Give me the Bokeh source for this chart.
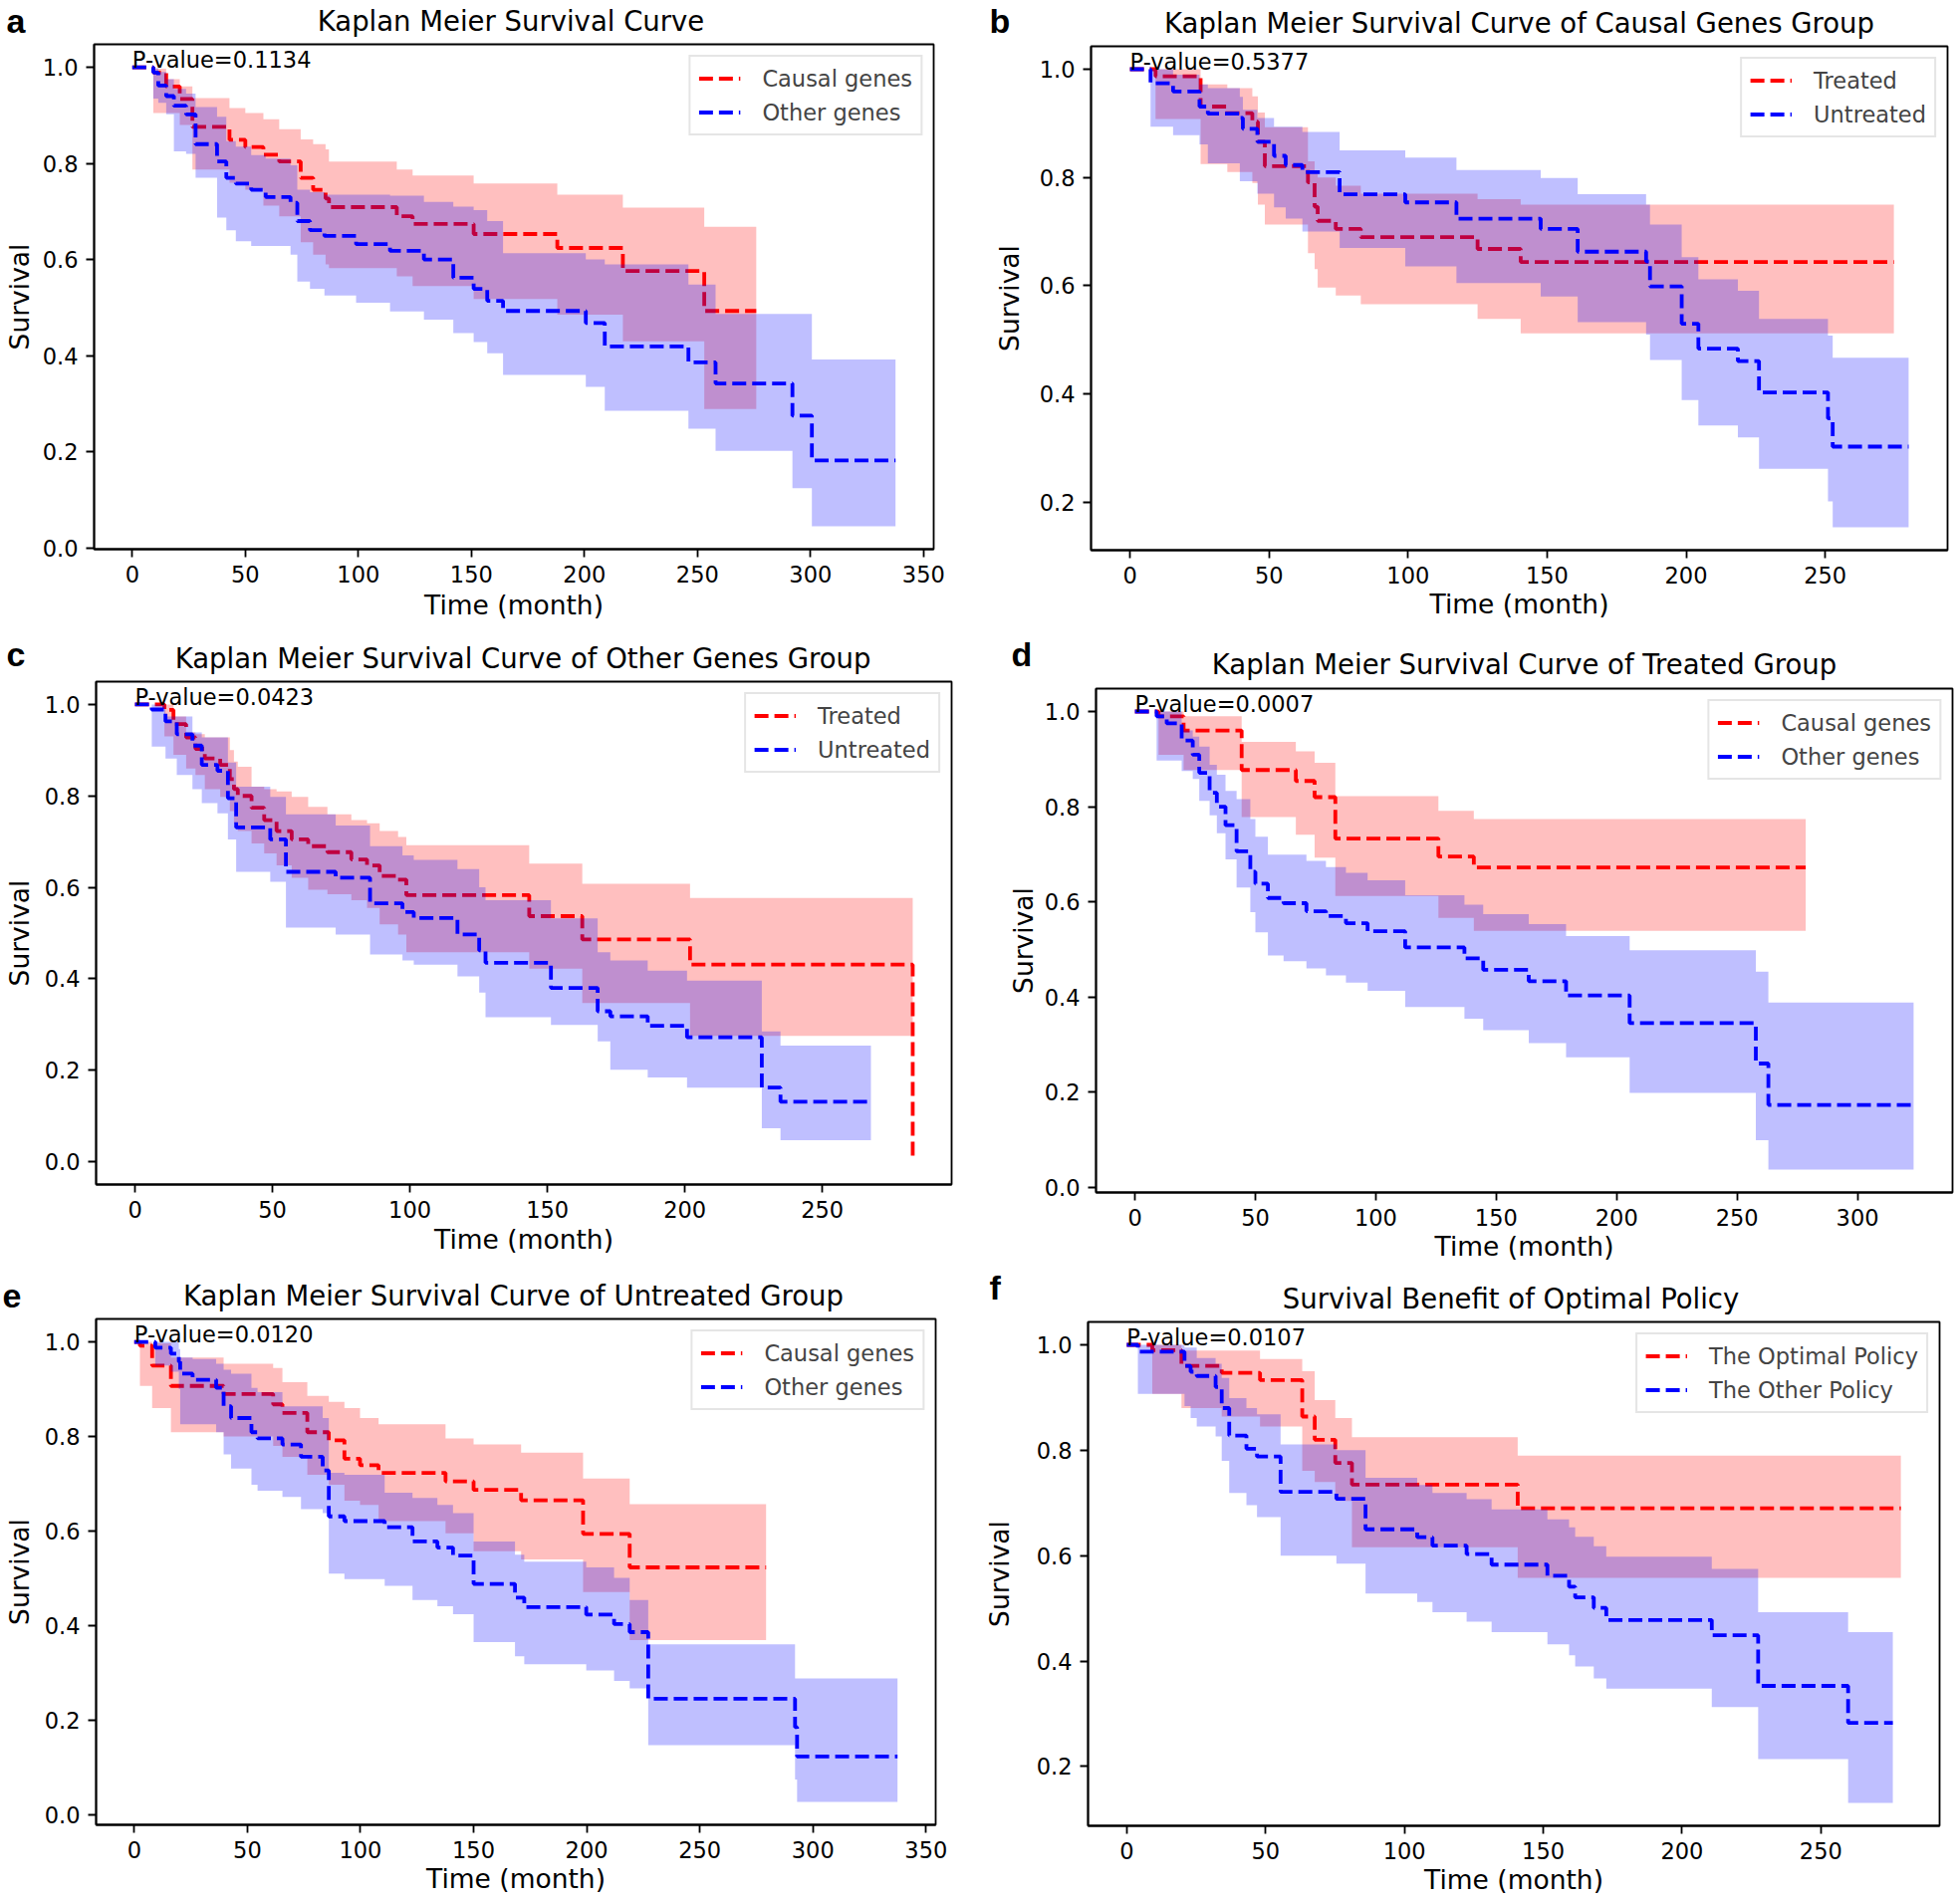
import math
from bokeh.plotting import figure
from bokeh.models import Range1d, FixedTicker, Label, NumeralTickFormatter
from bokeh.layouts import row, column
from bokeh.embed import file_html
from bokeh.resources import INLINE

# ---------------- data ----------------
X_TICKS = [0, 50, 100, 150, 200, 250, 300, 350]
Y_TICKS = [0.0, 0.2, 0.4, 0.6, 0.8, 1.0]

# Panel a: Causal genes (red) vs Other genes (blue)
A_RED_T = [0, 9.3, 15, 21, 26.6, 43, 50, 58, 65, 74.5, 80, 85.5, 87, 117, 124, 151, 188, 217, 253]
A_RED_S = [1.0, .989, .96, .934, .876, .849, .834, .818, .804, .77, .745, .727, .709, .69, .674, .653, .624, .576, .493]
A_RED_LO = [1.0, .905, .905, .88, .787, .76, .745, .712, .69, .636, .61, .59, .582, .565, .545, .518, .485, .43, .289]
A_RED_HI = [1.0, .997, .975, .96, .936, .915, .905, .892, .871, .85, .84, .829, .804, .787, .775, .758, .735, .708, .668]
A_RED_END = 276
A_BLUE_T = [0, 9.3, 11.5, 15, 18.4, 23.8, 28, 37.5, 41.6, 45.8, 52.6, 59, 70, 73, 78.6, 85, 99, 114, 129, 142, 151, 157, 164, 200.6, 209, 246, 258, 292, 300.6]
A_BLUE_S = [1.0, .989, .962, .94, .92, .902, .84, .804, .77, .758, .745, .73, .718, .68, .661, .649, .632, .618, .60, .562, .539, .514, .493, .468, .419, .386, .342, .275, .182]
A_BLUE_LO = [1.0, .935, .926, .902, .825, .82, .77, .687, .661, .638, .628, .628, .61, .554, .539, .525, .51, .492, .475, .447, .428, .405, .36, .335, .285, .248, .202, .124, .045]
A_BLUE_HI = [1.0, .998, .99, .975, .955, .945, .917, .897, .846, .835, .817, .81, .796, .745, .74, .735, .735, .733, .72, .71, .703, .68, .613, .60, .59, .548, .487, .487, .392]
A_BLUE_END = 337.6

# Panel b: Treated (red) vs Untreated (blue), causal genes group
B_RED_T = [0, 9.2, 25.4, 35, 44, 46, 48.5, 64, 66.4, 67.5, 74, 83, 125, 140.5]
B_RED_S = [1.0, .987, .931, .919, .903, .866, .821, .791, .746, .72, .705, .69, .668, .644]
B_RED_LO = [1.0, .908, .825, .81, .79, .75, .713, .66, .631, .597, .582, .566, .539, .512]
B_RED_HI = [1.0, 1.0, .972, .965, .95, .92, .893, .83, .81, .80, .785, .77, .76, .75]
B_RED_END = 274.7
B_BLUE_T = [0, 7.4, 15.5, 25, 28, 39.5, 40.6, 45.8, 51.8, 56, 62, 75.4, 99, 117.4, 147.7, 161, 185.6, 187, 198.4, 204.4, 218.6, 226.2, 251, 252.7]
B_BLUE_S = [1.0, .974, .959, .931, .918, .91, .89, .866, .84, .823, .81, .769, .754, .724, .705, .663, .645, .599, .53, .484, .461, .403, .355, .303]
B_BLUE_LO = [1.0, .894, .878, .861, .826, .793, .793, .77, .745, .724, .70, .67, .636, .605, .58, .533, .51, .463, .389, .342, .32, .262, .202, .154]
B_BLUE_HI = [1.0, 1.0, .99, .972, .965, .949, .925, .91, .894, .894, .884, .85, .837, .814, .799, .769, .75, .713, .653, .612, .591, .539, .508, .467]
B_BLUE_END = 280

# Panel c: Treated (red) vs Untreated (blue), other genes group
C_RED_T = [0, 10.7, 14, 18.6, 22, 25.4, 31, 34.5, 36, 37.4, 42.4, 47, 51.5, 57, 63, 70, 78.7, 84.4, 89, 95.7, 98.7, 143.4, 162.7, 201.9, 282.9]
C_RED_S = [1.0, .988, .957, .928, .903, .882, .868, .837, .815, .80, .774, .747, .723, .705, .69, .677, .661, .648, .625, .617, .583, .537, .486, .431, 0.0]
C_RED_LO = [1.0, .93, .89, .86, .846, .815, .798, .767, .74, .723, .696, .674, .648, .621, .595, .585, .572, .555, .519, .497, .458, .422, .347, .275, .275]
C_RED_HI = [1.0, 1.0, .974, .939, .935, .928, .928, .90, .875, .864, .82, .815, .81, .798, .776, .76, .747, .74, .723, .71, .692, .652, .608, .577, .577]
C_RED_END = 282.9
C_BLUE_T = [0, 6.1, 11.1, 15.2, 20.9, 24.3, 30, 33.8, 36.8, 49.2, 54.9, 73, 85.5, 97.3, 101.4, 117.3, 125.2, 127.5, 151.3, 168.3, 172.9, 186.5, 200.8, 228, 234.8]
C_BLUE_S = [1.0, .989, .963, .935, .91, .868, .855, .795, .731, .705, .634, .621, .565, .546, .533, .497, .462, .435, .38, .329, .318, .297, .272, .162, .131]
C_BLUE_LO = [1.0, .908, .882, .846, .815, .784, .762, .705, .634, .612, .512, .497, .453, .44, .431, .405, .37, .316, .299, .263, .201, .184, .162, .073, .047]
C_BLUE_HI = [1.0, 1.0, .974, .974, .939, .928, .928, .873, .82, .798, .76, .735, .69, .67, .66, .64, .60, .572, .532, .458, .44, .418, .396, .285, .254]
C_BLUE_END = 267.7

# Panel d: Causal genes (red) vs Other genes (blue), treated group
D_RED_T = [0, 9.8, 20.2, 44.3, 66.8, 74.6, 83.2, 126, 140.7]
D_RED_S = [1.0, .99, .96, .877, .854, .82, .733, .695, .672]
D_RED_LO = [1.0, .909, .877, .778, .741, .693, .612, .566, .539]
D_RED_HI = [1.0, 1.0, .99, .936, .916, .892, .822, .791, .774]
D_RED_END = 278.5
D_BLUE_T = [0, 9, 13.2, 19.4, 24, 26.7, 31, 34, 37.6, 42.2, 47.9, 50, 55.2, 61.7, 71.2, 79.3, 87.6, 96.6, 112.2, 136.8, 144.6, 163.5, 179, 205.4, 257.8, 263]
D_BLUE_S = [1.0, .99, .975, .939, .909, .871, .829, .80, .761, .706, .663, .638, .608, .597, .58, .57, .555, .538, .504, .481, .457, .433, .403, .345, .26, .173]
D_BLUE_LO = [1.0, .897, .897, .875, .858, .812, .782, .744, .689, .63, .578, .536, .487, .475, .46, .445, .43, .413, .379, .354, .33, .303, .273, .198, .099, .037]
D_BLUE_HI = [1.0, 1.0, 1.0, .96, .947, .926, .888, .867, .833, .816, .774, .737, .699, .699, .686, .673, .661, .645, .614, .594, .574, .553, .528, .498, .453, .388]
D_BLUE_END = 323.3

# Panel e: Causal genes (red) vs Other genes (blue), untreated group
E_RED_T = [0, 2.5, 7.9, 16.2, 39.5, 61.4, 65.5, 76.5, 86, 92.9, 99.8, 108, 137.6, 150, 171, 198.4, 219]
E_RED_S = [1.0, .992, .95, .907, .89, .868, .85, .809, .792, .753, .739, .723, .705, .687, .665, .594, .523]
E_RED_LO = [1.0, .907, .86, .809, .80, .78, .757, .719, .698, .664, .655, .621, .595, .557, .54, .471, .369]
E_RED_HI = [1.0, 1.0, .997, .967, .954, .945, .915, .886, .873, .86, .839, .826, .796, .783, .766, .711, .657]
E_RED_END = 279.3
E_BLUE_T = [0, 9.3, 16.2, 19.7, 20.3, 25.8, 36.2, 39.5, 42.8, 51.8, 54.5, 65.5, 73.7, 83.3, 86, 92.9, 110.7, 123, 134, 140.9, 150, 168.3, 172.4, 199.8, 212.1, 219, 227.2, 292.1, 293]
E_BLUE_S = [1.0, .988, .975, .958, .933, .92, .903, .864, .839, .809, .796, .783, .757, .728, .631, .621, .608, .578, .565, .548, .488, .459, .439, .423, .403, .386, .245, .185, .123]
E_BLUE_LO = [1.0, .95, .937, .90, .826, .826, .809, .762, .732, .698, .685, .672, .646, .638, .51, .498, .484, .454, .441, .424, .365, .335, .318, .305, .283, .267, .147, .074, .027]
E_BLUE_HI = [1.0, 1.0, 1.0, .985, .967, .964, .954, .941, .933, .903, .894, .864, .864, .839, .723, .719, .681, .67, .655, .638, .578, .55, .535, .523, .501, .454, .36, .288, .288]
E_BLUE_END = 337.4

# Panel f: The Optimal Policy (red) vs The Other Policy (blue)
F_RED_T = [0, 9.2, 19.7, 34.2, 48, 63.2, 67.7, 75.1, 81.1, 140.8]
F_RED_S = [1.0, .99, .96, .947, .933, .864, .82, .776, .735, .69]
F_RED_LO = [1.0, .907, .88, .864, .845, .761, .74, .704, .616, .558]
F_RED_HI = [1.0, 1.0, .989, .989, .973, .95, .895, .861, .825, .79]
F_RED_END = 278.8
F_BLUE_T = [0, 4, 20.8, 23, 25.2, 32, 34.2, 36.9, 43.1, 46.9, 55.4, 75.5, 86, 104.6, 110.1, 122.4, 131.4, 151.5, 159.3, 161.5, 168.2, 172.7, 210.7, 227.4, 259.8]
F_BLUE_S = [1.0, .987, .96, .949, .941, .92, .88, .828, .803, .788, .721, .708, .65, .635, .619, .603, .583, .562, .541, .521, .501, .478, .449, .353, .283]
F_BLUE_LO = [1.0, .907, .884, .861, .845, .826, .78, .719, .696, .673, .60, .585, .528, .512, .493, .475, .455, .432, .411, .39, .367, .348, .313, .214, .131]
F_BLUE_HI = [1.0, 1.0, .995, .995, .975, .964, .937, .899, .88, .868, .811, .80, .748, .734, .719, .707, .688, .669, .654, .636, .618, .598, .575, .493, .455]
F_BLUE_END = 275.9

TITLES = ["Kaplan Meier Survival Curve",
          "Kaplan Meier Survival Curve of Causal Genes Group",
          "Kaplan Meier Survival Curve of Other Genes Group",
          "Kaplan Meier Survival Curve of Treated Group",
          "Kaplan Meier Survival Curve of Untreated Group",
          "Survival Benefit of Optimal Policy"]
LETTERS = ["a", "b", "c", "d", "e", "f"]
P_VALUES = ["P-value=0.1134", "P-value=0.5377", "P-value=0.0423",
            "P-value=0.0007", "P-value=0.0120", "P-value=0.0107"]
LEGENDS = [("Causal genes", "Other genes"), ("Treated", "Untreated"),
           ("Treated", "Untreated"), ("Causal genes", "Other genes"),
           ("Causal genes", "Other genes"), ("The Optimal Policy", "The Other Policy")]
X_LABEL = "Time (month)"
Y_LABEL = "Survival"

SERIES = [
    ((A_RED_T, A_RED_S, A_RED_LO, A_RED_HI, A_RED_END), (A_BLUE_T, A_BLUE_S, A_BLUE_LO, A_BLUE_HI, A_BLUE_END)),
    ((B_RED_T, B_RED_S, B_RED_LO, B_RED_HI, B_RED_END), (B_BLUE_T, B_BLUE_S, B_BLUE_LO, B_BLUE_HI, B_BLUE_END)),
    ((C_RED_T, C_RED_S, C_RED_LO, C_RED_HI, C_RED_END), (C_BLUE_T, C_BLUE_S, C_BLUE_LO, C_BLUE_HI, C_BLUE_END)),
    ((D_RED_T, D_RED_S, D_RED_LO, D_RED_HI, D_RED_END), (D_BLUE_T, D_BLUE_S, D_BLUE_LO, D_BLUE_HI, D_BLUE_END)),
    ((E_RED_T, E_RED_S, E_RED_LO, E_RED_HI, E_RED_END), (E_BLUE_T, E_BLUE_S, E_BLUE_LO, E_BLUE_HI, E_BLUE_END)),
    ((F_RED_T, F_RED_S, F_RED_LO, F_RED_HI, F_RED_END), (F_BLUE_T, F_BLUE_S, F_BLUE_LO, F_BLUE_HI, F_BLUE_END)),
]

# ---------------- layout (page pixel coordinates) ----------------
CELLS = [(0, 0, 984, 636), (984, 0, 984, 636),
         (0, 636, 984, 636), (984, 636, 984, 636),
         (0, 1272, 984, 636), (984, 1272, 984, 636)]
# plot frame (left, top, right, bottom)
FRAMES = [(88, 44, 937, 551), (1095, 46, 1955, 552), (94, 684, 955, 1189),
          (1100, 691, 1960, 1197), (91, 1324, 939, 1832), (1086, 1327, 1947, 1833)]
YLAB_STANDOFF = [5, 12, 7, 3, 7, 19]
XLAB_STANDOFF = [4, 2, 3, 2, 2, 2]
TITLE_Y = [30.5, 32.5, 670.5, 676.5, 1310.5, 1313.5]      # baseline of the title
LETTER_POS = [(6, 32), (993, 32), (6, 668), (1015, 668), (2, 1313), (993, 1304)]

RED = "#ff0000"
BLUE = "#0000ff"
FONT = "DejaVu Sans"
MID = 0.346   # distance from text middle to baseline, in em
TITLE_SIZE = 27.5
LETTER_SIZE = 34
SMALL_SIZE = 22.5


def make_header(i, hh):
    cx, cy, cw, ch = CELLS[i]
    fl, ft, fr, fb = FRAMES[i]
    h = figure(width=cw, height=hh, x_range=Range1d(0, cw), y_range=Range1d(0, hh),
               x_axis_location=None, y_axis_location=None, min_border=0,
               output_backend="svg", toolbar_location=None)
    h.frame_align = False
    h.title.visible = False
    h.outline_line_color = None
    h.background_fill_color = "white"
    h.border_fill_color = "white"
    h.grid.visible = False
    h.add_layout(Label(x=(fl + fr) / 2 - cx, y=cy + hh - TITLE_Y[i] + MID * TITLE_SIZE,
                       x_units="screen", y_units="screen",
                       text=TITLES[i], text_font=FONT, text_font_size=f"{TITLE_SIZE}px",
                       text_align="center", text_baseline="middle", text_color="black"))
    lx, ly = LETTER_POS[i]
    h.add_layout(Label(x=lx - cx, y=cy + hh - ly + MID * LETTER_SIZE,
                       x_units="screen", y_units="screen",
                       text=LETTERS[i], text_font="Liberation Sans", text_font_style="bold",
                       text_font_size=f"{LETTER_SIZE}px", text_align="left", text_baseline="middle",
                       text_color="black"))
    return h


def make_panel(i):
    cx, cy, cw, ch = CELLS[i]
    fl, ft, fr, fb = FRAMES[i]
    hh = ft - cy - 2
    (red, blue) = SERIES[i]
    tmax = max(red[4], blue[4])
    ymin = min(min(red[1]), min(red[2]), min(blue[1]), min(blue[2]))
    ymax = 1.0
    span = ymax - ymin
    p = figure(width=cw, height=ch - hh,
               x_range=Range1d(-0.05 * tmax, 1.05 * tmax),
               y_range=Range1d(ymin - 0.05 * span, ymax + 0.05 * span),
               min_border_left=fl - cx, min_border_right=cx + cw - fr,
               min_border_top=2, min_border_bottom=cy + ch - fb,
               output_backend="svg", toolbar_location=None)
    p.frame_align = False
    p.title.visible = False
    p.background_fill_color = "white"
    p.border_fill_color = "white"
    p.outline_line_color = "black"
    p.outline_line_width = 1.8
    p.xgrid.visible = False
    p.ygrid.visible = False
    for ax in (p.xaxis[0], p.yaxis[0]):
        ax.axis_line_color = "black"
        ax.axis_line_width = 1.8
        ax.major_tick_out = 8
        ax.major_tick_in = 0
        ax.major_tick_line_width = 1.8
        ax.minor_tick_out = 0
        ax.minor_tick_in = 0
        ax.major_label_text_font = FONT
        ax.major_label_text_font_size = f"{SMALL_SIZE}px"
        ax.major_label_text_color = "black"
        ax.major_label_standoff = 8
        ax.axis_label_text_font = FONT
        ax.axis_label_text_font_size = "26.5px"
        ax.axis_label_text_font_style = "normal"
        ax.axis_label_text_color = "black"
    p.xaxis.ticker = FixedTicker(ticks=X_TICKS)
    p.yaxis.ticker = FixedTicker(ticks=Y_TICKS)
    p.yaxis.formatter = NumeralTickFormatter(format="0.0")
    p.xaxis.axis_label = X_LABEL
    p.yaxis.axis_label = Y_LABEL
    p.xaxis.axis_label_standoff = XLAB_STANDOFF[i]
    p.yaxis.axis_label_standoff = YLAB_STANDOFF[i]

    names = LEGENDS[i]
    for (t, s, lo, hi, end), color, name in ((red, RED, names[0]), (blue, BLUE, names[1])):
        x = list(t) + [end]
        y1 = list(lo) + [lo[-1]]
        y2 = list(hi) + [hi[-1]]
        xs, a, b = [], [], []
        for k in range(len(x) - 1):
            xs += [x[k], x[k + 1]]
            a += [y1[k], y1[k]]
            b += [y2[k], y2[k]]
        p.varea(x=xs, y1=a, y2=b, fill_color=color, fill_alpha=0.25)
        p.step(x=x, y=list(s) + [s[-1]], mode="after", line_color=color,
               line_width=3.8, line_dash="14 6", legend_label=name)

    lg = p.legend[0]
    lg.location = "top_right"
    lg.margin = 11
    lg.padding = 8
    lg.spacing = 7
    lg.label_height = 27
    lg.glyph_height = 27
    lg.glyph_width = 42
    lg.label_standoff = 22
    lg.label_text_font = FONT
    lg.label_text_font_size = f"{SMALL_SIZE}px"
    lg.border_line_color = "#cccccc"
    lg.border_line_width = 2
    lg.background_fill_alpha = 0.8

    p.add_layout(Label(x=0, y=1.0, y_offset=MID * SMALL_SIZE, text=P_VALUES[i], text_font=FONT,
                       text_font_size=f"{SMALL_SIZE}px", text_baseline="middle",
                       text_align="left", text_color="black"))
    return column(make_header(i, hh), p, spacing=0)


panels = [make_panel(i) for i in range(6)]
layout = column(row(panels[0], panels[1], spacing=0),
                row(panels[2], panels[3], spacing=0),
                row(panels[4], panels[5], spacing=0), spacing=0)

open("out.html", "w").write(file_html(layout, INLINE))
